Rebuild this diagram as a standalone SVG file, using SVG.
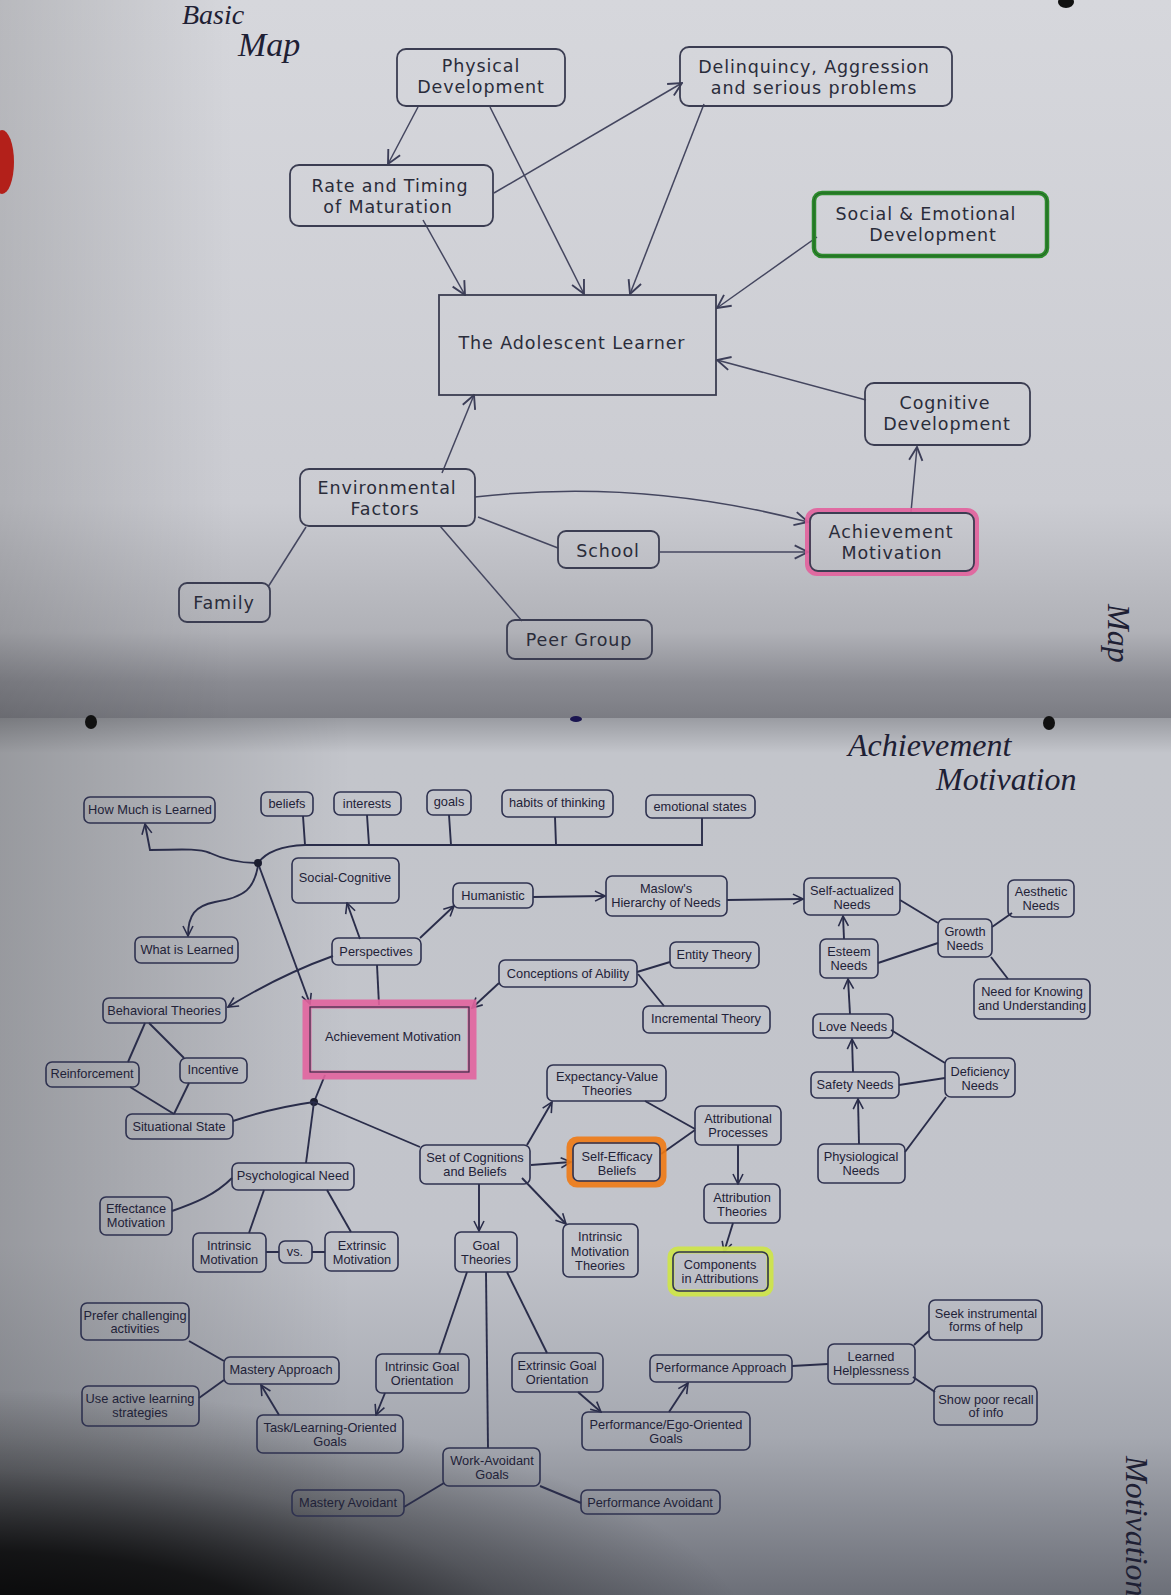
<svg xmlns="http://www.w3.org/2000/svg" width="1171" height="1595" viewBox="0 0 1171 1595">
<defs>
<linearGradient id="gTop" x1="0" y1="0" x2="0" y2="1">
<stop offset="0" stop-color="#d6d7dc"/><stop offset="0.7" stop-color="#cbccd2"/><stop offset="0.88" stop-color="#b0b1b7"/><stop offset="0.95" stop-color="#8a8b92"/><stop offset="1" stop-color="#7b7c83"/>
</linearGradient>
<linearGradient id="gTopL" x1="0" y1="0" x2="1" y2="0">
<stop offset="0" stop-color="#000" stop-opacity="0.14"/><stop offset="0.2" stop-color="#000" stop-opacity="0"/>
</linearGradient>
<linearGradient id="gBot" x1="0" y1="0" x2="0" y2="1">
<stop offset="0" stop-color="#9a9ca2"/><stop offset="0.04" stop-color="#c3c5cb"/><stop offset="0.6" stop-color="#c2c4cb"/><stop offset="0.82" stop-color="#a5a8b0"/><stop offset="1" stop-color="#6c6f78"/>
</linearGradient>
<linearGradient id="gBotL" x1="0" y1="0" x2="1" y2="0">
<stop offset="0" stop-color="#000" stop-opacity="0.22"/><stop offset="0.3" stop-color="#000" stop-opacity="0"/>
</linearGradient>
<radialGradient id="gDark" gradientUnits="userSpaceOnUse" cx="0" cy="0" r="1" gradientTransform="translate(0 1660) scale(760 270)">
<stop offset="0" stop-color="#000" stop-opacity="0.97"/><stop offset="0.4" stop-color="#000" stop-opacity="0.8"/><stop offset="0.7" stop-color="#000" stop-opacity="0.3"/><stop offset="1" stop-color="#000" stop-opacity="0"/>
</radialGradient>
<marker id="a1" viewBox="0 0 12 12" refX="11" refY="6" markerWidth="16" markerHeight="16" markerUnits="userSpaceOnUse" orient="auto"><path d="M1,1 L11,6 L1,11" fill="none" stroke="#3c3e58" stroke-width="1.4"/></marker>
<marker id="a2" viewBox="0 0 12 12" refX="11" refY="6" markerWidth="12" markerHeight="12" markerUnits="userSpaceOnUse" orient="auto"><path d="M1,1 L11,6 L1,11" fill="none" stroke="#2a2d4a" stroke-width="1.6"/></marker>
</defs>
<style>
.n{fill:none;stroke:#3b3d52;stroke-width:1.8}
.t{font-family:"DejaVu Sans",Verdana,sans-serif;font-size:17.5px;letter-spacing:0.9px;fill:#2a2c3a;text-anchor:middle}
.b{fill:none;stroke:#2f3250;stroke-width:1.6}
.bt{font-family:"Liberation Sans",Arial,sans-serif;font-size:12.8px;fill:#1f2238;text-anchor:middle}
.c1{fill:none;stroke:#44465f;stroke-width:1.5}
.c2{fill:none;stroke:#2a2d4a;stroke-width:1.9}
.hw{font-family:"Liberation Serif","DejaVu Serif",serif;font-style:italic;fill:#1e2034}
</style>

<!-- backgrounds -->
<rect x="0" y="0" width="1171" height="718" fill="url(#gTop)"/>
<rect x="0" y="0" width="1171" height="718" fill="url(#gTopL)"/>
<rect x="0" y="718" width="1171" height="877" fill="url(#gBot)"/>
<rect x="0" y="718" width="1171" height="877" fill="url(#gBotL)"/>
<rect x="0" y="718" width="1171" height="877" fill="url(#gDark)"/>
<ellipse cx="2" cy="162" rx="12" ry="32" fill="#b3201a"/>
<ellipse cx="1066" cy="2" rx="8" ry="6" fill="#111"/>
<ellipse cx="91" cy="722" rx="6" ry="7" fill="#111"/>
<ellipse cx="576" cy="719" rx="6" ry="3" fill="#1a1550"/>
<ellipse cx="1049" cy="723" rx="6" ry="7" fill="#111"/>

<!-- handwriting -->
<text class="hw" x="182" y="24" font-size="28">Basic</text>
<text class="hw" x="238" y="56" font-size="34">Map</text>
<text class="hw" x="1108" y="604" font-size="32" transform="rotate(90 1108 604)">Map</text>
<text class="hw" x="848" y="756" font-size="32">Achievement</text>
<text class="hw" x="936" y="790" font-size="32">Motivation</text>
<text class="hw" x="1126" y="1456" font-size="32" transform="rotate(90 1126 1456)">Motivation</text>

<!-- connectors -->
<g id="connectors">
<g id="top-connectors">
<path class="c1" d="M418,107 L388,164" marker-end="url(#a1)"/>
<path class="c1" d="M490,107 L584,294" marker-end="url(#a1)"/>
<path class="c1" d="M494,193 L682,83" marker-end="url(#a1)"/>
<path class="c1" d="M423,220 L465,295" marker-end="url(#a1)"/>
<path class="c1" d="M704,104 L630,294" marker-end="url(#a1)"/>
<path class="c1" d="M817,237 L717,308" marker-end="url(#a1)"/>
<path class="c1" d="M866,400 L717,360" marker-end="url(#a1)"/>
<path class="c1" d="M442,473 L474,395" marker-end="url(#a1)"/>
<path class="c1" d="M475,497 Q640,478 808,522" marker-end="url(#a1)"/>
<path class="c1" d="M478,517 L558,548"/>
<path class="c1" d="M660,552 L808,552" stroke-width="2.2" marker-end="url(#a1)"/>
<path class="c1" d="M306,527 L268,587"/>
<path class="c1" d="M440,526 L522,621"/>
<path class="c1" d="M911,512 L917,447" marker-end="url(#a1)"/>
</g>
<g id="bottom-connectors">
<path class="c2" d="M258,863 C266,852 280,846 305,845 L702,845 L702,818"/>
<path class="c2" d="M303,816 L305,845 M367,815 L369,845 M449,815 L451,845 M555,817 L556,845"/>
<path class="c2" d="M258,863 C240,863 225,860 210,853 C200,849 190,849 150,850 L145,824" marker-end="url(#a2)"/>
<path class="c2" d="M258,866 C254,888 246,897 215,902 C195,906 188,915 188,936" marker-end="url(#a2)"/>
<path class="c2" d="M259,866 L310,1004" marker-end="url(#a2)"/>
<circle cx="258" cy="863" r="4" fill="#1c1e30"/>
<path class="c2" d="M360,939 L347,903" marker-end="url(#a2)"/>
<path class="c2" d="M420,938 L454,906" marker-end="url(#a2)"/>
<path class="c2" d="M333,956 Q280,975 228,1007" marker-end="url(#a2)"/>
<path class="c2" d="M377,965 L379,1005"/>
<path class="c2" d="M533,897 L605,896" marker-end="url(#a2)"/>
<path class="c2" d="M727,900 L803,899" marker-end="url(#a2)"/>
<path class="c2" d="M499,983 L472,1008" marker-end="url(#a2)"/>
<path class="c2" d="M637,972 L670,962"/>
<path class="c2" d="M638,974 L664,1006"/>
<path class="c2" d="M900,900 L938,923"/>
<path class="c2" d="M1012,913 L992,927"/>
<path class="c2" d="M938,943 L878,963"/>
<path class="c2" d="M991,957 L1008,979"/>
<path class="c2" d="M844,939 L843,916" marker-end="url(#a2)"/>
<path class="c2" d="M850,1014 L848,979" marker-end="url(#a2)"/>
<path class="c2" d="M891,1030 L945,1063"/>
<path class="c2" d="M899,1085 L945,1078"/>
<path class="c2" d="M853,1072 L852,1039" marker-end="url(#a2)"/>
<path class="c2" d="M859,1144 L858,1099" marker-end="url(#a2)"/>
<path class="c2" d="M905,1152 L946,1097"/>
<path class="c2" d="M145,1023 L128,1062"/>
<path class="c2" d="M149,1023 L184,1058"/>
<path class="c2" d="M130,1087 L174,1114"/>
<path class="c2" d="M189,1083 L174,1114"/>
<path class="c2" d="M325,1075 L314,1102"/>
<circle cx="314" cy="1102" r="4" fill="#1c1e30"/>
<path class="c2" d="M314,1102 C285,1106 260,1112 233,1121"/>
<path class="c2" d="M314,1102 L306,1163"/>
<path class="c2" d="M314,1102 L420,1147"/>
<path class="c2" d="M232,1178 C215,1195 195,1203 172,1211"/>
<path class="c2" d="M264,1190 L249,1233"/>
<path class="c2" d="M327,1190 L351,1232"/>
<path class="c2" d="M266,1252 L279,1252 M312,1252 L325,1252"/>
<path class="c2" d="M527,1145 L552,1102" marker-end="url(#a2)"/>
<path class="c2" d="M531,1165 L571,1162" marker-end="url(#a2)"/>
<path class="c2" d="M479,1184 L479,1231" marker-end="url(#a2)"/>
<path class="c2" d="M522,1178 L566,1224" marker-end="url(#a2)"/>
<path class="c2" d="M645,1101 L695,1129"/>
<path class="c2" d="M661,1154 L695,1130"/>
<path class="c2" d="M738,1145 L738,1184" marker-end="url(#a2)"/>
<path class="c2" d="M733,1223 L724,1252" marker-end="url(#a2)"/>
<path class="c2" d="M467,1272 L439,1354"/>
<path class="c2" d="M486,1272 L488,1448"/>
<path class="c2" d="M507,1272 L547,1353"/>
<path class="c2" d="M385,1393 L376,1415" marker-end="url(#a2)"/>
<path class="c2" d="M279,1415 L261,1385" marker-end="url(#a2)"/>
<path class="c2" d="M189,1341 L224,1361"/>
<path class="c2" d="M199,1398 L224,1380"/>
<path class="c2" d="M444,1483 L404,1507"/>
<path class="c2" d="M540,1486 L581,1503"/>
<path class="c2" d="M578,1392 L601,1412" marker-end="url(#a2)"/>
<path class="c2" d="M669,1412 L688,1383" marker-end="url(#a2)"/>
<path class="c2" d="M792,1366 L828,1364"/>
<path class="c2" d="M914,1345 L929,1331"/>
<path class="c2" d="M913,1377 L935,1392"/>
</g>
</g>

<!-- top map nodes -->
<g id="physical"><rect class="n" x="397" y="49" width="168" height="57" rx="9"/><text class="t" x="481" y="72">Physical</text><text class="t" x="481" y="93">Development</text></g>
<g id="rate"><rect class="n" x="290" y="165" width="203" height="61" rx="9"/><text class="t" x="390" y="192">Rate and Timing</text><text class="t" x="388" y="213">of Maturation</text></g>
<g id="delinquency"><rect class="n" x="680" y="47" width="272" height="59" rx="9"/><text class="t" x="814" y="73">Delinquincy, Aggression</text><text class="t" x="814" y="94">and serious problems</text></g>
<g id="social"><rect x="814" y="193" width="233" height="63" rx="8" fill="none" stroke="#2c8a2c" stroke-width="4.5"/><rect x="814" y="193" width="233" height="63" rx="8" fill="none" stroke="#1d4a1f" stroke-width="1" opacity="0.6"/><text class="t" x="926" y="220">Social &amp; Emotional</text><text class="t" x="933" y="241">Development</text></g>
<g id="adolescent"><rect class="n" x="439" y="295" width="277" height="100"/><text class="t" x="572" y="349">The Adolescent Learner</text></g>
<g id="cognitive"><rect class="n" x="865" y="383" width="165" height="62" rx="9"/><text class="t" x="945" y="409">Cognitive</text><text class="t" x="947" y="430">Development</text></g>
<g id="environmental"><rect class="n" x="300" y="469" width="175" height="57" rx="9"/><text class="t" x="387" y="494">Environmental</text><text class="t" x="385" y="515">Factors</text></g>
<g id="family"><rect class="n" x="179" y="583" width="91" height="39" rx="8"/><text class="t" x="224" y="609">Family</text></g>
<g id="school"><rect class="n" x="558" y="531" width="101" height="37" rx="8"/><text class="t" x="608" y="557">School</text></g>
<g id="peer"><rect class="n" x="507" y="620" width="145" height="39" rx="8"/><text class="t" x="579" y="646">Peer Group</text></g>
<g id="achievement-top"><rect x="808" y="511" width="168" height="62" rx="9" fill="none" stroke="#e2609c" stroke-width="6" opacity="0.9"/><rect class="n" x="810" y="513" width="164" height="58" rx="8"/><text class="t" x="891" y="538">Achievement</text><text class="t" x="892" y="559">Motivation</text></g>

<!-- bottom map nodes -->
<g id="howmuch"><rect class="b" x="84" y="797" width="131" height="26" rx="6"/><text class="bt" x="150" y="814">How Much is Learned</text></g>
<g id="beliefs"><rect class="b" x="261" y="792" width="52" height="24" rx="6"/><text class="bt" x="287" y="808">beliefs</text></g>
<g id="interests"><rect class="b" x="334" y="792" width="67" height="23" rx="6"/><text class="bt" x="367" y="808">interests</text></g>
<g id="goals"><rect class="b" x="427" y="790" width="44" height="25" rx="6"/><text class="bt" x="449" y="806">goals</text></g>
<g id="habits"><rect class="b" x="502" y="790" width="111" height="27" rx="6"/><text class="bt" x="557" y="807">habits of thinking</text></g>
<g id="emotional"><rect class="b" x="646" y="795" width="109" height="23" rx="6"/><text class="bt" x="700" y="811">emotional states</text></g>
<g id="whatis"><rect class="b" x="135" y="937" width="103" height="26" rx="6"/><text class="bt" x="187" y="954">What is Learned</text></g>
<g id="socialcog"><rect class="b" x="292" y="858" width="107" height="45" rx="6"/><text class="bt" x="345" y="882">Social-Cognitive</text></g>
<g id="humanistic"><rect class="b" x="453" y="883" width="80" height="25" rx="6"/><text class="bt" x="493" y="900">Humanistic</text></g>
<g id="perspectives"><rect class="b" x="332" y="938" width="89" height="27" rx="6"/><text class="bt" x="376" y="956">Perspectives</text></g>
<g id="behavioral"><rect class="b" x="103" y="998" width="123" height="25" rx="6"/><text class="bt" x="164" y="1015">Behavioral Theories</text></g>
<g id="achievement-bottom"><rect x="307" y="1004" width="165" height="71" fill="none" stroke="#e2649e" stroke-width="9" opacity="0.9"/><rect x="310" y="1007" width="159" height="65" fill="none" stroke="#3a2c48" stroke-width="1.2"/><text class="bt" x="393" y="1041">Achievement Motivation</text></g>
<g id="conceptions"><rect class="b" x="499" y="960" width="138" height="27" rx="6"/><text class="bt" x="568" y="978">Conceptions of Ability</text></g>
<g id="entity"><rect class="b" x="670" y="942" width="89" height="26" rx="6"/><text class="bt" x="714" y="959">Entity Theory</text></g>
<g id="incremental"><rect class="b" x="643" y="1006" width="127" height="27" rx="6"/><text class="bt" x="706" y="1023">Incremental Theory</text></g>
<g id="maslow"><rect class="b" x="606" y="876" width="121" height="40" rx="6"/><text class="bt" x="666" y="893">Maslow's</text><text class="bt" x="666" y="907">Hierarchy of Needs</text></g>
<g id="selfact"><rect class="b" x="804" y="878" width="96" height="37" rx="6"/><text class="bt" x="852" y="895">Self-actualized</text><text class="bt" x="852" y="909">Needs</text></g>
<g id="aesthetic"><rect class="b" x="1008" y="880" width="66" height="37" rx="6"/><text class="bt" x="1041" y="896">Aesthetic</text><text class="bt" x="1041" y="910">Needs</text></g>
<g id="growth"><rect class="b" x="938" y="919" width="54" height="38" rx="6"/><text class="bt" x="965" y="936">Growth</text><text class="bt" x="965" y="950">Needs</text></g>
<g id="esteem"><rect class="b" x="820" y="939" width="58" height="39" rx="6"/><text class="bt" x="849" y="956">Esteem</text><text class="bt" x="849" y="970">Needs</text></g>
<g id="knowing"><rect class="b" x="974" y="979" width="116" height="40" rx="6"/><text class="bt" x="1032" y="996">Need for Knowing</text><text class="bt" x="1032" y="1010">and Understanding</text></g>
<g id="love"><rect class="b" x="813" y="1014" width="80" height="24" rx="6"/><text class="bt" x="853" y="1031">Love Needs</text></g>
<g id="deficiency"><rect class="b" x="945" y="1058" width="70" height="39" rx="6"/><text class="bt" x="980" y="1076">Deficiency</text><text class="bt" x="980" y="1090">Needs</text></g>
<g id="safety"><rect class="b" x="811" y="1072" width="88" height="26" rx="6"/><text class="bt" x="855" y="1089">Safety Needs</text></g>
<g id="physio"><rect class="b" x="818" y="1144" width="87" height="39" rx="6"/><text class="bt" x="861" y="1161">Physiological</text><text class="bt" x="861" y="1175">Needs</text></g>
<g id="expectancy"><rect class="b" x="547" y="1065" width="119" height="36" rx="6"/><text class="bt" x="607" y="1081">Expectancy-Value</text><text class="bt" x="607" y="1095">Theories</text></g>
<g id="attributional"><rect class="b" x="695" y="1106" width="86" height="39" rx="6"/><text class="bt" x="738" y="1123">Attributional</text><text class="bt" x="738" y="1137">Processes</text></g>
<g id="selfefficacy"><rect x="570" y="1140" width="93" height="44" rx="7" fill="none" stroke="#ef7a14" stroke-width="7" opacity="0.9"/><rect class="b" x="573" y="1143" width="87" height="38" rx="6"/><text class="bt" x="617" y="1161">Self-Efficacy</text><text class="bt" x="617" y="1175">Beliefs</text></g>
<g id="setcog"><rect class="b" x="420" y="1145" width="110" height="39" rx="6"/><text class="bt" x="475" y="1162">Set of Cognitions</text><text class="bt" x="475" y="1176">and Beliefs</text></g>
<g id="attrtheories"><rect class="b" x="704" y="1184" width="76" height="39" rx="6"/><text class="bt" x="742" y="1202">Attribution</text><text class="bt" x="742" y="1216">Theories</text></g>
<g id="components"><rect x="671" y="1250" width="99" height="43" rx="7" fill="none" stroke="#cde44c" stroke-width="7" opacity="0.95"/><rect class="b" x="673" y="1252" width="95" height="39" rx="6"/><text class="bt" x="720" y="1269">Components</text><text class="bt" x="720" y="1283">in Attributions</text></g>
<g id="intrmotth"><rect class="b" x="563" y="1224" width="75" height="53" rx="6"/><text class="bt" x="600" y="1241">Intrinsic</text><text class="bt" x="600" y="1256">Motivation</text><text class="bt" x="600" y="1270">Theories</text></g>
<g id="goaltheories"><rect class="b" x="455" y="1232" width="62" height="40" rx="6"/><text class="bt" x="486" y="1250">Goal</text><text class="bt" x="486" y="1264">Theories</text></g>
<g id="psych"><rect class="b" x="232" y="1163" width="122" height="27" rx="6"/><text class="bt" x="293" y="1180">Psychological Need</text></g>
<g id="effectance"><rect class="b" x="100" y="1197" width="72" height="38" rx="6"/><text class="bt" x="136" y="1213">Effectance</text><text class="bt" x="136" y="1227">Motivation</text></g>
<g id="intrinsic"><rect class="b" x="193" y="1233" width="73" height="39" rx="6"/><text class="bt" x="229" y="1250">Intrinsic</text><text class="bt" x="229" y="1264">Motivation</text></g>
<g id="vs"><rect class="b" x="279" y="1241" width="33" height="22" rx="6"/><text class="bt" x="295" y="1256">vs.</text></g>
<g id="extrinsic"><rect class="b" x="325" y="1232" width="73" height="39" rx="6"/><text class="bt" x="362" y="1250">Extrinsic</text><text class="bt" x="362" y="1264">Motivation</text></g>
<g id="situational"><rect class="b" x="126" y="1114" width="107" height="25" rx="6"/><text class="bt" x="179" y="1131">Situational State</text></g>
<g id="reinforcement"><rect class="b" x="46" y="1062" width="93" height="25" rx="6"/><text class="bt" x="92" y="1078">Reinforcement</text></g>
<g id="incentive"><rect class="b" x="180" y="1058" width="67" height="25" rx="6"/><text class="bt" x="213" y="1074">Incentive</text></g>
<g id="intrgoal"><rect class="b" x="376" y="1354" width="93" height="39" rx="6"/><text class="bt" x="422" y="1371">Intrinsic Goal</text><text class="bt" x="422" y="1385">Orientation</text></g>
<g id="extrgoal"><rect class="b" x="512" y="1353" width="91" height="39" rx="6"/><text class="bt" x="557" y="1370">Extrinsic Goal</text><text class="bt" x="557" y="1384">Orientation</text></g>
<g id="task"><rect class="b" x="257" y="1415" width="146" height="38" rx="6"/><text class="bt" x="330" y="1432">Task/Learning-Oriented</text><text class="bt" x="330" y="1446">Goals</text></g>
<g id="mastery"><rect class="b" x="224" y="1357" width="115" height="27" rx="6"/><text class="bt" x="281" y="1374">Mastery Approach</text></g>
<g id="prefer"><rect class="b" x="81" y="1303" width="108" height="37" rx="6"/><text class="bt" x="135" y="1320">Prefer challenging</text><text class="bt" x="135" y="1333">activities</text></g>
<g id="useactive"><rect class="b" x="82" y="1386" width="117" height="40" rx="6"/><text class="bt" x="140" y="1403">Use active learning</text><text class="bt" x="140" y="1417">strategies</text></g>
<g id="workav"><rect class="b" x="443" y="1448" width="97" height="38" rx="6"/><text class="bt" x="492" y="1465">Work-Avoidant</text><text class="bt" x="492" y="1479">Goals</text></g>
<g id="masteryav"><rect class="b" x="292" y="1490" width="112" height="26" rx="6"/><text class="bt" x="348" y="1507">Mastery Avoidant</text></g>
<g id="perfav"><rect class="b" x="581" y="1490" width="139" height="24" rx="6"/><text class="bt" x="650" y="1507">Performance Avoidant</text></g>
<g id="perfego"><rect class="b" x="582" y="1412" width="168" height="38" rx="6"/><text class="bt" x="666" y="1429">Performance/Ego-Oriented</text><text class="bt" x="666" y="1443">Goals</text></g>
<g id="perfappr"><rect class="b" x="650" y="1355" width="142" height="27" rx="6"/><text class="bt" x="721" y="1372">Performance Approach</text></g>
<g id="learnedh"><rect class="b" x="828" y="1344" width="87" height="40" rx="6"/><text class="bt" x="871" y="1361">Learned</text><text class="bt" x="871" y="1375">Helplessness</text></g>
<g id="seek"><rect class="b" x="929" y="1300" width="113" height="40" rx="6"/><text class="bt" x="986" y="1318">Seek instrumental</text><text class="bt" x="986" y="1331">forms of help</text></g>
<g id="showpoor"><rect class="b" x="934" y="1386" width="103" height="39" rx="6"/><text class="bt" x="986" y="1404">Show poor recall</text><text class="bt" x="986" y="1417">of info</text></g>
</svg>
